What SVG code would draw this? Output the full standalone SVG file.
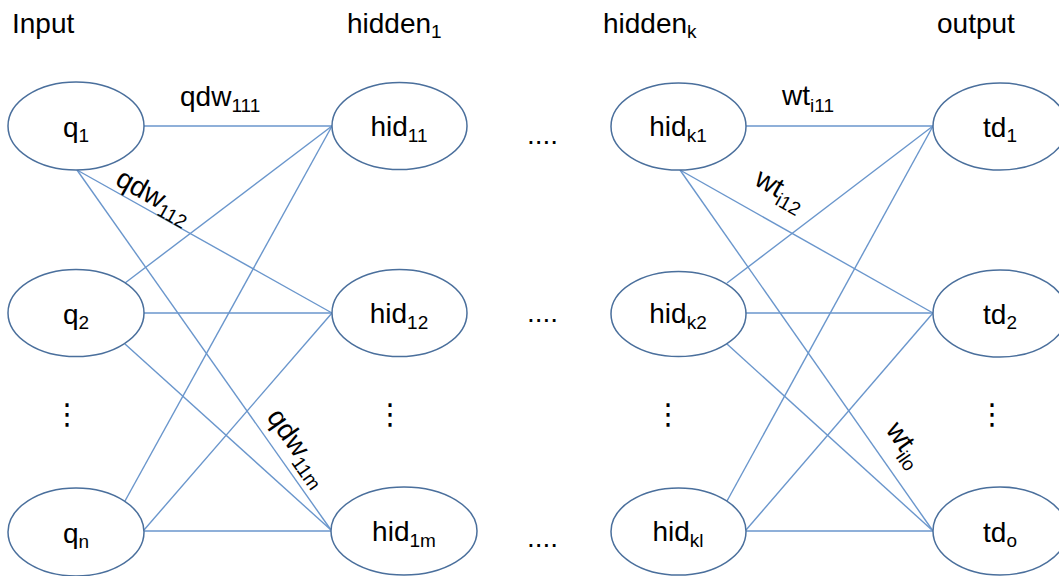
<svg xmlns="http://www.w3.org/2000/svg" width="1059" height="576" viewBox="0 0 1059 576">
  <style>
    text { font-family: "Liberation Sans", Arial, sans-serif; fill: #000; }
    .hdr { font-size: 28px; }
    .lbl { font-size: 28px; text-anchor: middle; }
    .edge { font-size: 28px; }
    .sub { font-size: 19px; }
    .node { fill: #fff; stroke: #4a6f9c; stroke-width: 1.5; }
    .link { stroke: #6a96cc; stroke-width: 1.4; fill: none; }
    .vdots { font-family: "DejaVu Sans", sans-serif; font-size: 29px; text-anchor: middle; }
    .hdots { font-size: 28px; }
  </style>

  <rect width="1059" height="576" fill="#fff"/>

  <!-- layer headers -->
  <g id="headers">
    <text class="hdr" x="12" y="33">Input</text>
    <text class="hdr" x="347" y="33">hidden<tspan class="sub" dy="5">1</tspan></text>
    <text class="hdr" x="603" y="33">hidden<tspan class="sub" dy="5">k</tspan></text>
    <text class="hdr" x="937" y="33">output</text>
  </g>

  <!-- connections -->
  <g id="connectors">
    <!-- input layer to first hidden layer -->
    <line class="link" x1="144" y1="126" x2="332" y2="126"/>
    <line class="link" x1="77" y1="170" x2="332" y2="313"/>
    <line class="link" x1="77" y1="170" x2="331" y2="530"/>
    <line class="link" x1="125" y1="283" x2="332" y2="126"/>
    <line class="link" x1="144" y1="313" x2="332" y2="313"/>
    <line class="link" x1="125" y1="344" x2="331" y2="530"/>
    <line class="link" x1="125" y1="501" x2="332" y2="126"/>
    <line class="link" x1="144" y1="530" x2="332" y2="313"/>
    <line class="link" x1="144" y1="531" x2="331" y2="531"/>
    <!-- last hidden layer to output layer -->
    <line class="link" x1="746" y1="126" x2="933" y2="126"/>
    <line class="link" x1="680" y1="170" x2="933" y2="313"/>
    <line class="link" x1="680" y1="170" x2="933" y2="531"/>
    <line class="link" x1="727" y1="283" x2="933" y2="126"/>
    <line class="link" x1="746" y1="313" x2="933" y2="313"/>
    <line class="link" x1="727" y1="344" x2="933" y2="531"/>
    <line class="link" x1="727" y1="501" x2="933" y2="126"/>
    <line class="link" x1="746" y1="530" x2="933" y2="313"/>
    <line class="link" x1="746" y1="531" x2="933" y2="531"/>
  </g>

  <!-- weight labels -->
  <g id="weights">
    <text class="edge" x="180" y="106">qdw<tspan class="sub" dy="6">111</tspan></text>
    <text class="edge" transform="translate(114,184) rotate(29.3)">qdw<tspan class="sub" dy="6">112</tspan></text>
    <text class="edge" transform="translate(266,417) rotate(54.8)">qdw<tspan class="sub" dy="6">11m</tspan></text>
    <text class="edge" x="782" y="105">wt<tspan class="sub" dy="7">i11</tspan></text>
    <text class="edge" transform="translate(753,184) rotate(29.5)">wt<tspan class="sub" dy="7">i12</tspan></text>
    <text class="edge" transform="translate(885,430) rotate(55)">wt<tspan class="sub" dy="7">ilo</tspan></text>
  </g>

  <!-- input layer -->
  <g id="q1"><ellipse class="node" cx="76" cy="126" rx="68" ry="44"/><text class="lbl" x="76" y="137">q<tspan class="sub" dy="5">1</tspan></text></g>
  <g id="q2"><ellipse class="node" cx="76" cy="313" rx="68" ry="43.5"/><text class="lbl" x="76" y="324">q<tspan class="sub" dy="5">2</tspan></text></g>
  <g id="qn"><ellipse class="node" cx="76" cy="532" rx="68" ry="44"/><text class="lbl" x="76" y="543">q<tspan class="sub" dy="5">n</tspan></text></g>

  <!-- first hidden layer -->
  <g id="hid11"><ellipse class="node" cx="399.5" cy="126" rx="67.5" ry="43.5"/><text class="lbl" x="399" y="136">hid<tspan class="sub" dy="6">11</tspan></text></g>
  <g id="hid12"><ellipse class="node" cx="399.5" cy="313" rx="67.5" ry="43.5"/><text class="lbl" x="399" y="323">hid<tspan class="sub" dy="6">12</tspan></text></g>
  <g id="hid1m"><ellipse class="node" cx="404" cy="531" rx="73" ry="44"/><text class="lbl" x="404" y="541">hid<tspan class="sub" dy="6">1m</tspan></text></g>

  <!-- last hidden layer -->
  <g id="hidk1"><ellipse class="node" cx="678.5" cy="126.5" rx="67.5" ry="43.5"/><text class="lbl" x="678" y="136">hid<tspan class="sub" dy="6">k1</tspan></text></g>
  <g id="hidk2"><ellipse class="node" cx="678.5" cy="314" rx="67.5" ry="42.5"/><text class="lbl" x="678" y="323">hid<tspan class="sub" dy="6">k2</tspan></text></g>
  <g id="hidkl"><ellipse class="node" cx="678.5" cy="531.5" rx="67.5" ry="43.5"/><text class="lbl" x="678" y="541">hid<tspan class="sub" dy="6">kl</tspan></text></g>

  <!-- output layer -->
  <g id="td1"><ellipse class="node" cx="1000" cy="126.5" rx="67" ry="43.5"/><text class="lbl" x="1000" y="137">td<tspan class="sub" dy="5">1</tspan></text></g>
  <g id="td2"><ellipse class="node" cx="1000" cy="313.5" rx="67" ry="43.5"/><text class="lbl" x="1000" y="324">td<tspan class="sub" dy="5">2</tspan></text></g>
  <g id="tdo"><ellipse class="node" cx="1000" cy="531" rx="67" ry="44"/><text class="lbl" x="1000" y="542">td<tspan class="sub" dy="5">o</tspan></text></g>

  <!-- ellipses between layers and nodes -->
  <g id="ellipsis">
    <text class="hdots" x="527" y="144">....</text>
    <text class="hdots" x="527" y="322">....</text>
    <text class="hdots" x="527" y="547">....</text>
    <text class="vdots" x="67" y="424">⋮</text>
    <text class="vdots" x="390" y="424">⋮</text>
    <text class="vdots" x="668" y="424">⋮</text>
    <text class="vdots" x="992" y="424">⋮</text>
  </g>
</svg>
